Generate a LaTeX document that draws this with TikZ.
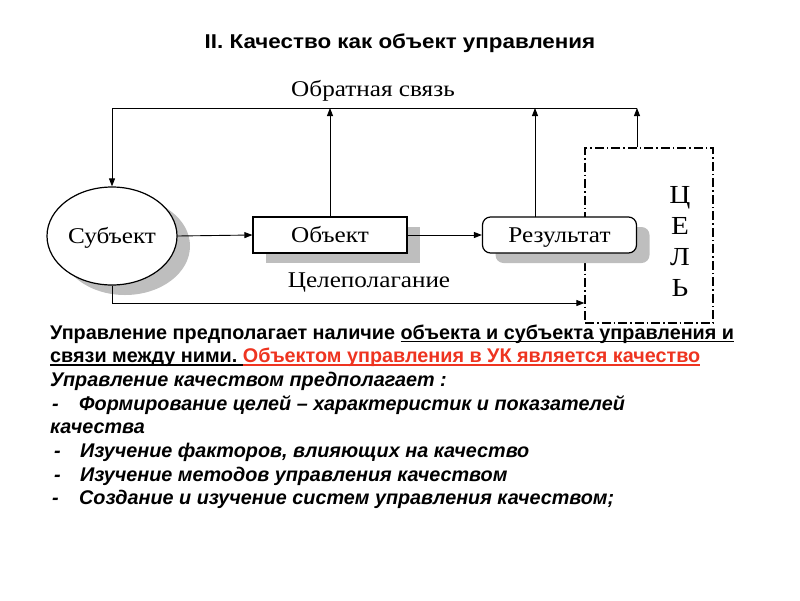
\documentclass[tikz,border=0pt]{standalone}
\usepackage{fontspec}
\setmainfont{Liberation Serif}
\newfontfamily\arial{Liberation Sans}
\usepackage{graphicx}
\usetikzlibrary{shapes.geometric,shadows,arrows.meta}
\definecolor{ktred}{RGB}{238,52,32}
\definecolor{shade}{RGB}{190,190,190}
\newcommand{\wide}[1]{\scalebox{1.12}[1]{#1}}
\newcommand{\uln}[1]{\setbox0\hbox{#1}\rlap{\rule[-3pt]{\wd0}{1.3pt}}\box0}

\begin{document}
\begin{tikzpicture}[x=1pt, y=-1pt,
		boxshade/.style={drop shadow={shadow xshift=13pt, shadow yshift=-10pt, fill=shade, opacity=1}},
		serif/.style={font=\fontsize{22.5}{24}\selectfont},
		block/.style={draw, line width=1.2pt, fill=white, minimum width=154pt, minimum height=36pt, inner sep=0pt, serif, text height=15pt, text depth=1pt},
		link/.style={-{Triangle[length=8pt,width=6pt]}, line width=0.9pt},
		bodyline/.style={anchor=base west, inner sep=0pt, font=\arial\bfseries\fontsize{19.8}{21}\selectfont},
		listline/.style={bodyline, font=\arial\bfseries\itshape\fontsize{19.8}{21}\selectfont}
	]
	\useasboundingbox (0,0) rectangle (800,600);

	\node[anchor=base, inner sep=0pt, font=\arial\bfseries\fontsize{20}{22}\selectfont] (title) at (400,48) {\wide{II. Качество как объект управления}};

	\node[draw, line width=1.2pt, dash pattern=on 9pt off 3pt on 1.5pt off 3pt, minimum width=128pt, minimum height=175pt, inner sep=0pt] (goal) at (649,235.5) {};
	\node[align=center, inner sep=0pt, font=\fontsize{26}{31.3}\selectfont] (goaltext) at (680,241.5) {\wide{Ц}\\\wide{Е}\\\wide{Л}\\\wide{Ь}};

	\node[draw, ellipse, line width=1.2pt, fill=white, boxshade, minimum width=130pt, minimum height=98pt, inner sep=0pt, serif, text height=15pt, text depth=1pt] (subj) at (112,236) {\wide{Субъект}};
	\node[block, boxshade] (obj) at (330,235) {\wide{Объект}};
	\node[block, boxshade, rounded corners=8pt] (res) at (559.5,235) {\wide{Результат}};

	\node[inner sep=0pt, serif] (fb) at (373,91) {\wide{Обратная связь}};
	\node[inner sep=0pt, serif] (aim) at (369,283) {\wide{Целеполагание}};

	\coordinate (fbl) at (112,108);
	\coordinate (fbr) at (637,108);
	\coordinate (bot) at (112,303);

	\draw[link] (subj.east) -- (obj.west);
	\draw[link] (obj.east) -- (res.west);
	\draw[link] (obj.north) -- (obj.north |- fbl);
	\draw[link] (535,217) -- (535,108);
	\draw[link] (goal.north -| fbr) -- (fbr);
	\draw[link] (fbr) -- (fbl) -- (subj.north);
	\draw[link] (subj.south) -- (bot) -- (bot -| goal.west);

	\node[bodyline] (l1) at (50,339) {Управление предполагает наличие \uln{объекта и субъекта управления и}};
	\node[bodyline] (l2) at (50,362.7) {\uln{связи между ними.\ }{\color{ktred}\uln{Объектом управления в УК является качество}}};
	\node[listline] (l3) at (50,386.4) {Управление качеством предполагает :};
	\node[listline] (d4) at (52,410.1) {-};
	\node[listline] (l4) at (79,410.1) {Формирование целей – характеристик и показателей};
	\node[listline] (l5) at (50,433.8) {качества};
	\node[listline] (d6) at (54,457.5) {-};
	\node[listline] (l6) at (80,457.5) {Изучение факторов, влияющих на качество};
	\node[listline] (d7) at (54,481.2) {-};
	\node[listline] (l7) at (80,481.2) {Изучение методов управления качеством};
	\node[listline] (d8) at (52,504.9) {-};
	\node[listline] (l8) at (79,504.9) {Создание и изучение систем управления качеством;};

\end{tikzpicture}
\end{document}
